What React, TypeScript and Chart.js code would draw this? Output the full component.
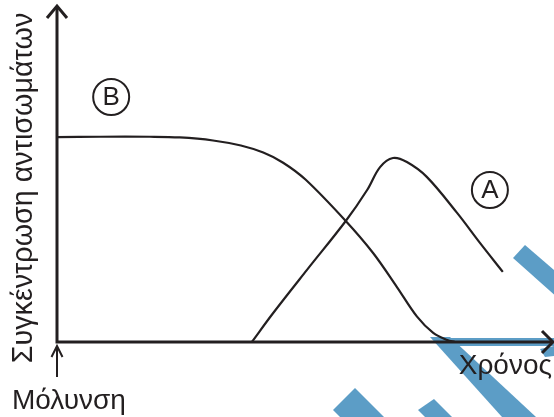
import { useEffect, useRef } from "react";
import { Chart, registerables } from "chart.js";

Chart.register(...registerables);

// Time axis (0..100) and antibody concentration (0..100)
const timeB = [0, 8.7, 18.7, 24.7, 31.4, 37.0, 41.5, 45.5, 50.0, 58.1, 63.6, 68.4, 72.4, 75.7, 78.5, 80.1];
const levelB = [60.8, 60.9, 60.9, 60.7, 59.8, 58.3, 56.2, 53.2, 48.2, 35.9, 26.4, 16.3, 7.6, 2.7, 0.6, 0];
const timeA = [39.2, 43.5, 50.3, 58.1, 62.4, 65.0, 67.6, 70.4, 74.4, 80.5, 85.1, 89.7];
const levelA = [0, 8.6, 21.4, 35.9, 45.1, 51.9, 54.6, 53.4, 49.0, 38.3, 29.4, 20.8];

const curveNames = ["A", "B"];
const curveLabelX = [87.1, 10.9];
const curveLabelY = [45.1, 72.7];

const yTitle = "Συγκέντρωση αντισωμάτων";
const xTitle = "Χρόνος";
const startLabel = "Μόλυνση";

const INK = "#231f20";
const FONT = '"Liberation Sans", Arial, sans-serif';

const decorPlugin = {
  id: "decor",
  beforeDraw(chart: any) {
    const ctx = chart.ctx;
    ctx.save();
    ctx.fillStyle = "#ffffff";
    ctx.fillRect(0, 0, chart.width, chart.height);
    // watermark brush strokes
    ctx.fillStyle = "rgb(92,157,198)";
    const polys = [
      [[525, 245], [610, 318], [596, 332], [513, 258]],
      [[430, 337], [450, 337], [536, 417], [502, 417]],
      [[440, 338], [554, 338], [554, 346], [448, 346]],
      [[540, 349], [554, 346], [554, 356], [545, 357]],
      [[333, 410], [355, 388], [384, 417], [340, 417]],
      [[418, 410], [434, 399], [452, 417], [425, 417]],
    ];
    for (const p of polys) {
      ctx.beginPath();
      ctx.moveTo(p[0][0], p[0][1]);
      for (let i = 1; i < p.length; i++) ctx.lineTo(p[i][0], p[i][1]);
      ctx.closePath();
      ctx.fill();
    }
    ctx.restore();
  },
  afterDatasetsDraw(chart: any) {
    const ctx = chart.ctx;
    const { left, top, right, bottom } = chart.chartArea;
    const xs = chart.scales.x;
    const ys = chart.scales.y;
    ctx.save();
    ctx.strokeStyle = INK;
    ctx.lineCap = "butt";
    ctx.lineJoin = "miter";
    // axes
    ctx.lineWidth = 3;
    ctx.beginPath();
    ctx.moveTo(left, top + 1);
    ctx.lineTo(left, bottom);
    ctx.lineTo(right - 2, bottom);
    ctx.stroke();
    // arrow heads
    ctx.beginPath();
    ctx.moveTo(left - 10, top + 13);
    ctx.lineTo(left, top + 1);
    ctx.lineTo(left + 10, top + 13);
    ctx.stroke();
    ctx.beginPath();
    ctx.moveTo(right - 12, bottom - 11);
    ctx.lineTo(right - 1, bottom);
    ctx.lineTo(right - 12, bottom + 11);
    ctx.stroke();
    // infection arrow
    ctx.lineWidth = 2;
    ctx.beginPath();
    ctx.moveTo(left, bottom + 35);
    ctx.lineTo(left, bottom + 4);
    ctx.stroke();
    ctx.beginPath();
    ctx.moveTo(left - 5.5, bottom + 15);
    ctx.lineTo(left, bottom + 4);
    ctx.lineTo(left + 5.5, bottom + 15);
    ctx.stroke();

    // circled curve labels
    ctx.fillStyle = INK;
    ctx.textAlign = "center";
    ctx.textBaseline = "middle";
    for (let i = 0; i < curveNames.length; i++) {
      const cx = xs.getPixelForValue(curveLabelX[i]);
      const cy = ys.getPixelForValue(curveLabelY[i]);
      ctx.lineWidth = 2;
      ctx.beginPath();
      ctx.arc(cx, cy, 18, 0, Math.PI * 2);
      ctx.stroke();
      ctx.font = `26px ${FONT}`;
      ctx.fillText(curveNames[i], cx, cy + 1);
    }

    // texts
    ctx.textBaseline = "alphabetic";
    ctx.font = `28px ${FONT}`;
    ctx.textAlign = "left";
    ctx.fillText(startLabel, 12, 409);
    ctx.textAlign = "right";
    ctx.fillText(xTitle, 552, 374);

    ctx.save();
    ctx.translate(32, 188);
    ctx.rotate(-Math.PI / 2);
    ctx.textAlign = "center";
    ctx.font = `26px ${FONT}`;
    const w = ctx.measureText(yTitle).width;
    const size = Math.min(30, (26 * 351) / w);
    ctx.font = `${size.toFixed(1)}px ${FONT}`;
    ctx.fillText(yTitle, 0, 0);
    ctx.restore();

    ctx.restore();
  },
};

export default function App() {
  const ref = useRef<HTMLCanvasElement | null>(null);
  useEffect(() => {
    if (!ref.current) return;
    const chart = new Chart(ref.current, {
      type: "line",
      data: {
        datasets: [
          {
            label: curveNames[0],
            data: timeA.map((t, i) => ({ x: t, y: levelA[i] })),
            borderColor: INK,
            borderWidth: 2.2,
            pointRadius: 0,
            tension: 0.35,
            fill: false,
            clip: false as any,
          },
          {
            label: curveNames[1],
            data: timeB.map((t, i) => ({ x: t, y: levelB[i] })),
            borderColor: INK,
            borderWidth: 2.2,
            pointRadius: 0,
            tension: 0.35,
            fill: false,
            clip: false as any,
          },
        ],
      },
      options: {
        responsive: false,
        maintainAspectRatio: false,
        animation: false,
        layout: { padding: { left: 57, top: 5, right: 0, bottom: 75 } },
        plugins: { legend: { display: false }, tooltip: { enabled: false } },
        scales: {
          x: { type: "linear", min: 0, max: 100, display: false },
          y: { type: "linear", min: 0, max: 100, display: false },
        },
      },
      plugins: [decorPlugin],
    });
    return () => chart.destroy();
  }, []);
  return (
    <div style={{ position: "fixed", left: 0, top: 0, width: 554, height: 417, background: "#fff" }}>
      <canvas ref={ref} width={554} height={417} style={{ display: "block" }} />
    </div>
  );
}
